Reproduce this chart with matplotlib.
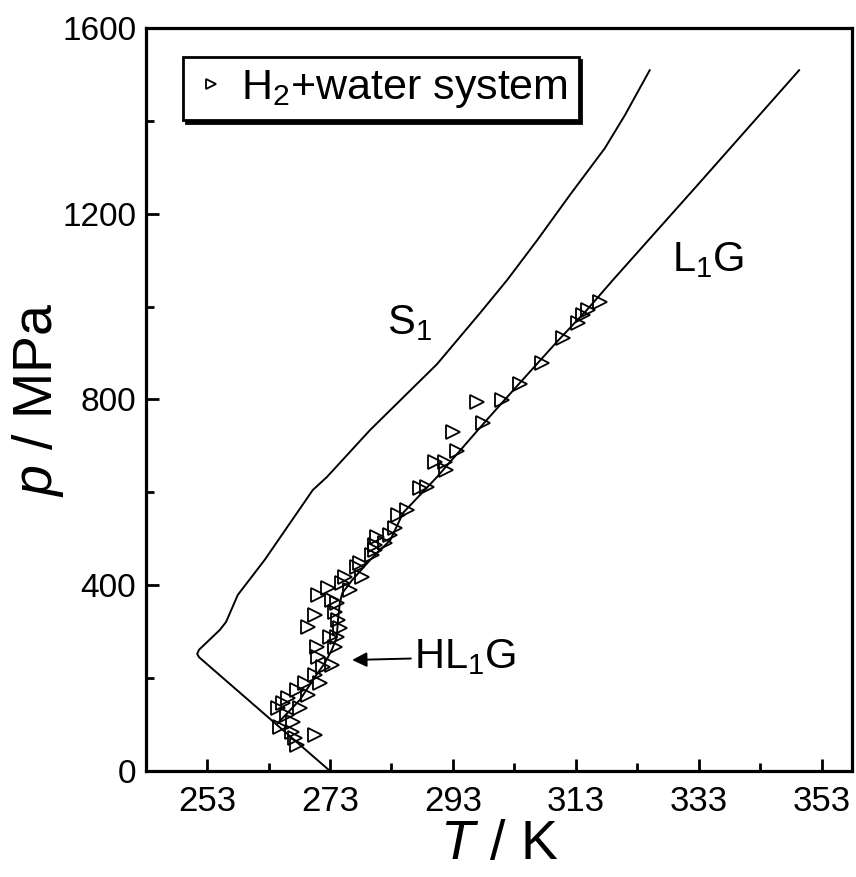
import matplotlib
matplotlib.use("Agg")
import matplotlib.pyplot as plt
from matplotlib.ticker import MultipleLocator, FixedLocator

plt.rcParams['font.family'] = ['Liberation Sans', 'DejaVu Sans']
plt.rcParams['mathtext.fontset'] = 'custom'
plt.rcParams['mathtext.rm'] = 'Liberation Sans'
plt.rcParams['mathtext.it'] = 'Liberation Sans:italic'

# solid phase boundary (ice melting line and S1 branch)
s1_T = [273.0, 251.7, 251.4, 251.7, 255.1, 256.1, 258.0, 262.4, 270.2, 272.5,
        279.5, 290.4, 297.4, 301.8, 306.7, 312.0, 317.7, 321.0, 325.0]
s1_p = [0, 245, 252, 261, 304, 321, 379, 455, 605, 633,
        734, 876, 986, 1057, 1143, 1240, 1341, 1413, 1509]

# HL1G three-phase line continuing into the L1G line
l1g_T = [264.5, 268.1, 271.0, 272.2, 273.3, 274.1, 274.3, 274.6, 275.0, 276.6,
         279.5, 282.8, 284.9, 290.4, 298.5, 303.9, 309.9, 314.8, 319.0, 333.2, 349.3]
l1g_p = [103, 153, 211, 233, 261, 288, 325, 362, 383, 411,
         454, 497, 556, 633, 756, 836, 924, 993, 1057, 1268, 1509]

# experimental points, H2 + water
exp_T = [316.9, 314.9, 314.1, 313.3, 310.9, 307.5, 303.9, 301.0, 296.9, 297.9,
         293.0, 293.6, 291.7, 290.1, 291.9, 288.8, 287.6, 285.5, 284.1, 283.6,
         282.8, 280.6, 281.9, 280.3, 280.3, 279.8, 277.9, 277.4, 278.2, 275.4,
         274.9, 276.2, 272.7, 271.0, 273.3, 274.1, 270.6, 269.4, 273.8, 274.3,
         274.6, 274.1, 273.0, 270.9, 273.8, 271.0, 273.3, 271.9, 270.6, 271.4,
         268.9, 267.6, 269.4, 266.2, 265.4, 268.1, 264.5, 266.0, 267.0, 264.9,
         266.8, 270.6, 267.3, 267.6]
exp_p = [1010, 993, 982, 965, 932, 879, 833, 799, 795, 749,
         730, 689, 665, 665, 648, 612, 609, 562, 551, 523,
         508, 504, 491, 476, 487, 465, 448, 439, 418, 418,
         405, 390, 394, 379, 368, 362, 336, 310, 342, 325,
         308, 288, 288, 267, 267, 246, 228, 224, 207, 190,
         190, 174, 164, 157, 146, 136, 136, 121, 106, 95,
         84, 78, 71, 56]

x_ticks = [253, 273, 293, 313, 333, 353]
y_ticks = [0, 400, 800, 1200, 1600]

fig = plt.figure(figsize=(8.56, 8.77), dpi=100)
ax = fig.add_axes([0.1706, 0.1209, 0.8247, 0.8472])

ax.plot(s1_T, s1_p, color='black', lw=1.4)
ax.plot(l1g_T, l1g_p, color='black', lw=1.4)
ax.plot(exp_T, exp_p, linestyle='none', marker='>', markersize=10,
        markerfacecolor='none', markeredgecolor='black', markeredgewidth=1.3,
        label=r'H$_2$+water system')

ax.set_xlim(243.08, 357.9)
ax.set_ylim(0, 1600)
ax.xaxis.set_major_locator(FixedLocator(x_ticks))
ax.xaxis.set_minor_locator(FixedLocator([263, 283, 303, 323, 343]))
ax.yaxis.set_major_locator(FixedLocator(y_ticks))
ax.yaxis.set_minor_locator(MultipleLocator(200))

for s in ax.spines.values():
    s.set_linewidth(2.3)
ax.tick_params(which='both', direction='in', top=False, right=False, width=2)
ax.tick_params(which='major', length=9)
ax.tick_params(which='minor', length=6)
ax.tick_params(axis='x', labelsize=25, pad=10)
ax.tick_params(axis='y', labelsize=24, pad=7)

ax.set_xlabel(r'$\it{T}$ / K', fontsize=40, va='top')
ax.set_ylabel(r'$\it{p}$ / MPa', fontsize=40, va='center')
ax.xaxis.set_label_coords(0.501, -0.064)
ax.yaxis.set_label_coords(-0.153, 0.5)

ax.text(286.0, 965, r'S$_1$', fontsize=30, ha='center', va='center')
ax.text(334.5, 1100, r'L$_1$G', fontsize=30, ha='center', va='center')
ax.annotate(r'HL$_1$G', xy=(276.6, 239), xytext=(286.6, 245),
            fontsize=30, ha='left', va='center',
            arrowprops=dict(arrowstyle='-|>', color='black', lw=1.4,
                            mutation_scale=22, shrinkA=0, shrinkB=0))

leg = ax.legend(loc='upper left', bbox_to_anchor=(0.052, 0.961), borderaxespad=0,
                fontsize=31, fancybox=False, handletextpad=0.3, handlelength=0.8,
                borderpad=0.25, markerscale=0.75,
                shadow={'color': 'black', 'alpha': 1})
leg.get_frame().set_edgecolor('black')
leg.get_frame().set_linewidth(2)

fig.savefig('out.png', dpi=100)
